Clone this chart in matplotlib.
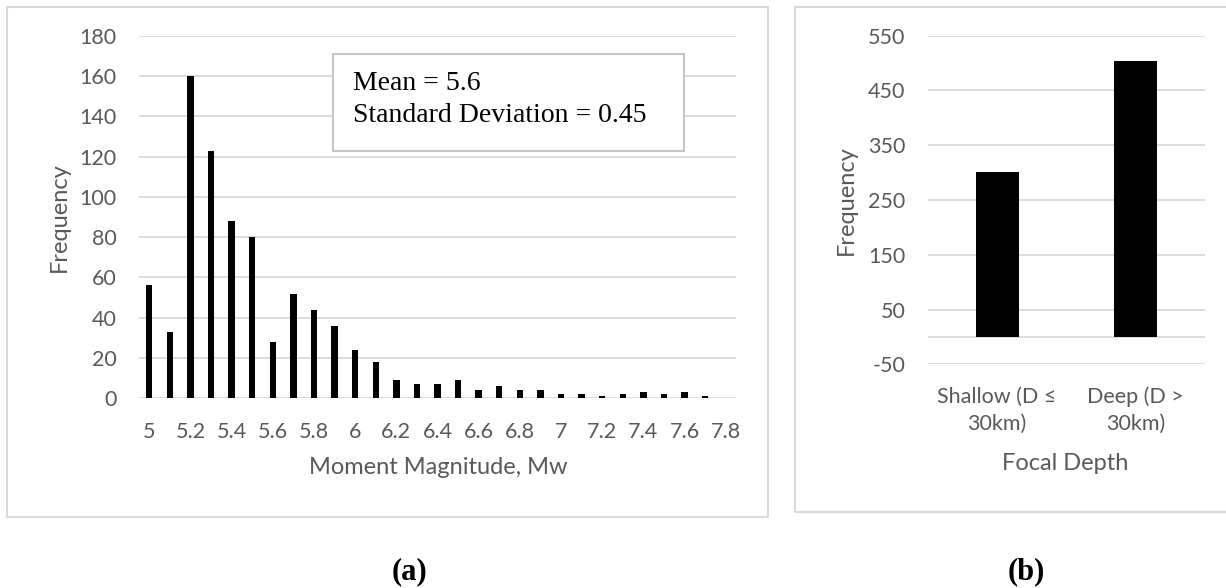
import matplotlib
matplotlib.use("Agg")
import matplotlib.pyplot as plt
from matplotlib.patches import Rectangle

# ---- data ----
magnitudes = ["5", "5.1", "5.2", "5.3", "5.4", "5.5", "5.6", "5.7", "5.8", "5.9",
              "6", "6.1", "6.2", "6.3", "6.4", "6.5", "6.6", "6.7", "6.8", "6.9",
              "7", "7.1", "7.2", "7.3", "7.4", "7.5", "7.6", "7.7", "7.8"]
mag_freq = [56, 33, 160, 123, 88, 80, 28, 52, 44, 36,
            24, 18, 9, 7, 7, 9, 4, 6, 4, 4,
            2, 2, 1, 2, 3, 2, 3, 1, 0]
mag_yticks = [0, 20, 40, 60, 80, 100, 120, 140, 160, 180]

depth_cats = ["Shallow (D ≤\n30km)", "Deep (D >\n30km)"]
depth_freq = [302, 504]
depth_yticks = [-50, 50, 150, 250, 350, 450, 550]

stats_lines = ["Mean = 5.6", "Standard Deviation = 0.45"]

# ---- style ----
plt.rcParams["axes.unicode_minus"] = False
W, H = 1226, 588
DPI = 100
GRID = "#d9d9d9"
TXT = "#595959"
FONT = "Lato"
TICK_FS = 15.5
LAB_FS = 17

fig = plt.figure(figsize=(W / DPI, H / DPI), dpi=DPI)
fig.patch.set_facecolor("white")


def fx(px):
    return px / W


def fy(py):
    return 1 - py / H


def add_ax(x0, x1, y_top, y_bot):
    return fig.add_axes([fx(x0), fy(y_bot), fx(x1) - fx(x0), (y_bot - y_top) / H])


# panel frames
fig.add_artist(Rectangle((fx(7), fy(516.7)), fx(768.3) - fx(7), (516.7 - 7) / H,
                         transform=fig.transFigure, fill=False, edgecolor=GRID, lw=1.5))
fig.add_artist(Rectangle((fx(795), fy(511.7)), fx(1240) - fx(795), (511.7 - 7) / H,
                         transform=fig.transFigure, fill=False, edgecolor=GRID, lw=1.5))


def style_axes(ax):
    for s in ax.spines.values():
        s.set_visible(False)
    ax.tick_params(length=0, colors=TXT, labelsize=TICK_FS)
    for lab in ax.get_xticklabels() + ax.get_yticklabels():
        lab.set_fontfamily(FONT)
    ax.set_axisbelow(True)
    ax.yaxis.grid(True, color=GRID, lw=1.3)
    ax.set_facecolor("none")


def label(x, y, s, rot=0):
    fig.text(fx(x), fy(y), s, fontfamily=FONT, fontsize=LAB_FS, color=TXT,
             ha="center", va="center", rotation=rot)


# ---- (a) magnitude histogram ----
axa = add_ax(139, 736, 35.7, 398.3)
xpos = list(range(len(magnitudes)))
axa.bar(xpos, mag_freq, width=0.31, color="black")
axa.set_xlim(-0.5, len(magnitudes) - 0.5)
axa.set_ylim(0, 180)
axa.set_yticks(mag_yticks)
axa.set_xticks(xpos[::2])
axa.set_xticklabels(magnitudes[::2])
style_axes(axa)
axa.tick_params(axis="y", pad=16)
axa.tick_params(axis="x", pad=17)
label(59, 217, "Frequency", rot=90)
label(438, 468, "Moment Magnitude, Mw")

# stats box
fig.add_artist(Rectangle((fx(333.3), fy(150.7)), fx(684.3) - fx(333.3), (150.7 - 54) / H,
                         transform=fig.transFigure, facecolor="white", edgecolor="#bfbfbf",
                         lw=1.3, zorder=3))
for line, base_y in zip(stats_lines, [90, 121.7]):
    fig.text(fx(352.7), fy(base_y), line, fontfamily="Liberation Serif", fontsize=20,
             color="black", ha="left", va="baseline", zorder=4)

# ---- (b) focal depth ----
axb = add_ax(927.7, 1205, 35.7, 364.3)
bpos = list(range(len(depth_cats)))
axb.bar(bpos, depth_freq, width=0.31, color="black")
axb.set_xlim(-0.5, len(depth_cats) - 0.5)
axb.set_ylim(-50, 550)
axb.set_yticks(depth_yticks)
axb.set_xticks(bpos)
axb.set_xticklabels(depth_cats)
axb.axhline(0, color=GRID, lw=1.3, zorder=0.5)
style_axes(axb)
for lab in axb.get_xticklabels():
    lab.set_linespacing(1.45)
axb.tick_params(axis="y", pad=16)
axb.tick_params(axis="x", pad=16)
label(846, 200, "Frequency", rot=90)
label(1065, 463, "Focal Depth")

# ---- captions ----
fig.text(fx(409.7), fy(579), "(a)", fontfamily="Liberation Serif", fontweight="bold",
         fontsize=22, ha="center", va="baseline")
fig.text(fx(1026.7), fy(579), "(b)", fontfamily="Liberation Serif", fontweight="bold",
         fontsize=22, ha="center", va="baseline")

fig.savefig("out.png", dpi=DPI, facecolor="white")
